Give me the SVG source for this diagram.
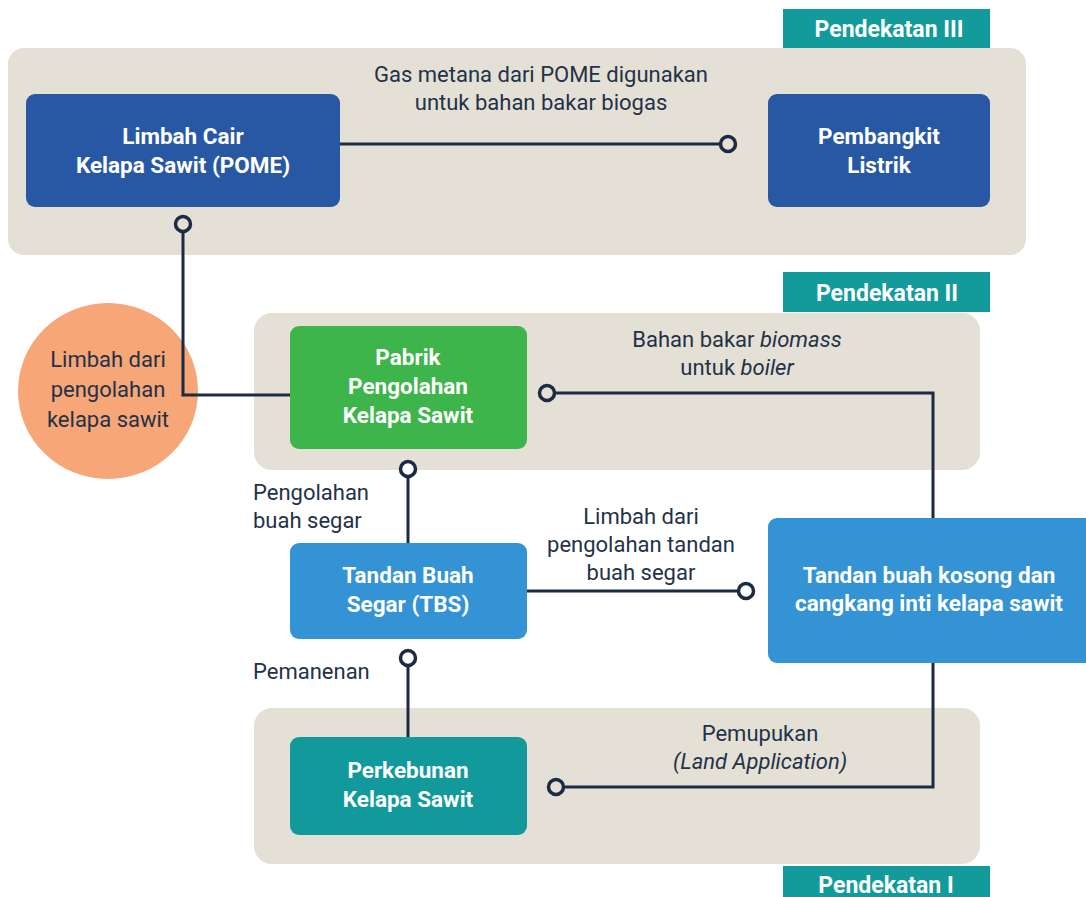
<svg xmlns="http://www.w3.org/2000/svg" width="1086" height="897" viewBox="0 0 1086 897">
<style>
.panel{fill:#e4e0d5}
.tag{fill:#139a9b}
.tagt{font-family:"Roboto","Liberation Sans",sans-serif;font-weight:bold;font-size:23px;fill:#fff;text-anchor:middle}
.nt{font-family:"Roboto","Liberation Sans",sans-serif;font-weight:bold;font-size:22.5px;fill:#fff;text-anchor:middle}
.lt{font-family:"Roboto","Liberation Sans",sans-serif;font-size:22px;fill:#233248;text-anchor:middle}
.ll{text-anchor:start}
.it{font-style:italic}
.ln{fill:none;stroke:#1b2b43;stroke-width:3}
.end{fill:#e4e0d5;stroke:#1b2b43;stroke-width:3.5}
.endw{fill:#fff;stroke:#1b2b43;stroke-width:3.5}
</style>
<rect width="1086" height="897" fill="#fff"/>
<g id="panels">
<rect class="panel" x="8" y="48" width="1018" height="207" rx="16"/>
<rect class="panel" x="254" y="313" width="726" height="157" rx="18"/>
<rect class="panel" x="254" y="708" width="726" height="156" rx="18"/>
</g>
<g id="tag3"><rect class="tag" x="783" y="9" width="207" height="39"/><text class="tagt" x="889" y="37">Pendekatan III</text></g>
<g id="tag2"><rect class="tag" x="783" y="272" width="207" height="40"/><text class="tagt" x="887" y="301">Pendekatan II</text></g>
<g id="tag1"><rect class="tag" x="783" y="866" width="207" height="31"/><text class="tagt" x="886" y="893">Pendekatan I</text></g>
<g id="limbah"><ellipse cx="108" cy="391" rx="90" ry="88" fill="#f6a677"/><text class="lt" x="108" y="367">Limbah dari</text><text class="lt" x="108" y="397">pengolahan</text><text class="lt" x="108" y="427">kelapa sawit</text></g>
<g id="connectors">
<path class="ln" d="M340 144H721"/>
<path class="ln" d="M183 231V395H290"/>
<path class="ln" d="M554 393H933V518"/>
<path class="ln" d="M408 476V543"/>
<path class="ln" d="M527 591H739"/>
<path class="ln" d="M408 665V737"/>
<path class="ln" d="M563 787H933V663"/>
<circle class="end" cx="728" cy="144" r="7.5"/>
<circle class="end" cx="183" cy="224" r="7.5"/>
<circle class="end" cx="547" cy="393" r="7.5"/>
<circle class="endw" cx="408" cy="469" r="7.5"/>
<circle class="endw" cx="746" cy="591" r="7.5"/>
<circle class="endw" cx="408" cy="658" r="7.5"/>
<circle class="end" cx="556" cy="787" r="7.5"/>
</g>
<g id="labels">
<text class="lt" x="541" y="82">Gas metana dari POME digunakan</text>
<text class="lt" x="541" y="110">untuk bahan bakar biogas</text>
<text class="lt" x="737" y="347">Bahan bakar <tspan class="it">biomass</tspan></text>
<text class="lt" x="737" y="375">untuk <tspan class="it">boiler</tspan></text>
<text class="lt ll" x="253" y="500">Pengolahan</text>
<text class="lt ll" x="253" y="528">buah segar</text>
<text class="lt" x="641" y="524">Limbah dari</text>
<text class="lt" x="641" y="552">pengolahan tandan</text>
<text class="lt" x="641" y="580">buah segar</text>
<text class="lt ll" x="253" y="679">Pemanenan</text>
<text class="lt" x="760" y="741">Pemupukan</text>
<text class="lt it" x="760" y="769">(Land Application)</text>
</g>
<g id="pome"><rect x="26" y="94" width="314" height="113" rx="9" fill="#2857a4"/><text class="nt" x="183" y="144">Limbah Cair</text><text class="nt" x="183" y="173">Kelapa Sawit (POME)</text></g>
<g id="listrik"><rect x="768" y="94" width="222" height="113" rx="9" fill="#2857a4"/><text class="nt" x="879" y="144">Pembangkit</text><text class="nt" x="879" y="173">Listrik</text></g>
<g id="pabrik"><rect x="290" y="326" width="237" height="123" rx="9" fill="#3db54a"/><text class="nt" x="408" y="365">Pabrik</text><text class="nt" x="408" y="394">Pengolahan</text><text class="nt" x="408" y="423">Kelapa Sawit</text></g>
<g id="tbs"><rect x="290" y="543" width="237" height="96" rx="9" fill="#3393d4"/><text class="nt" x="408" y="583">Tandan Buah</text><text class="nt" x="408" y="612">Segar (TBS)</text></g>
<g id="tbk"><rect x="768" y="518" width="330" height="145" rx="9" fill="#3393d4"/><text class="nt" x="929" y="583">Tandan buah kosong dan</text><text class="nt" x="929" y="611">cangkang inti kelapa sawit</text></g>
<g id="kebun"><rect x="290" y="737" width="237" height="98" rx="9" fill="#11999c"/><text class="nt" x="408" y="778">Perkebunan</text><text class="nt" x="408" y="807">Kelapa Sawit</text></g>
</svg>
